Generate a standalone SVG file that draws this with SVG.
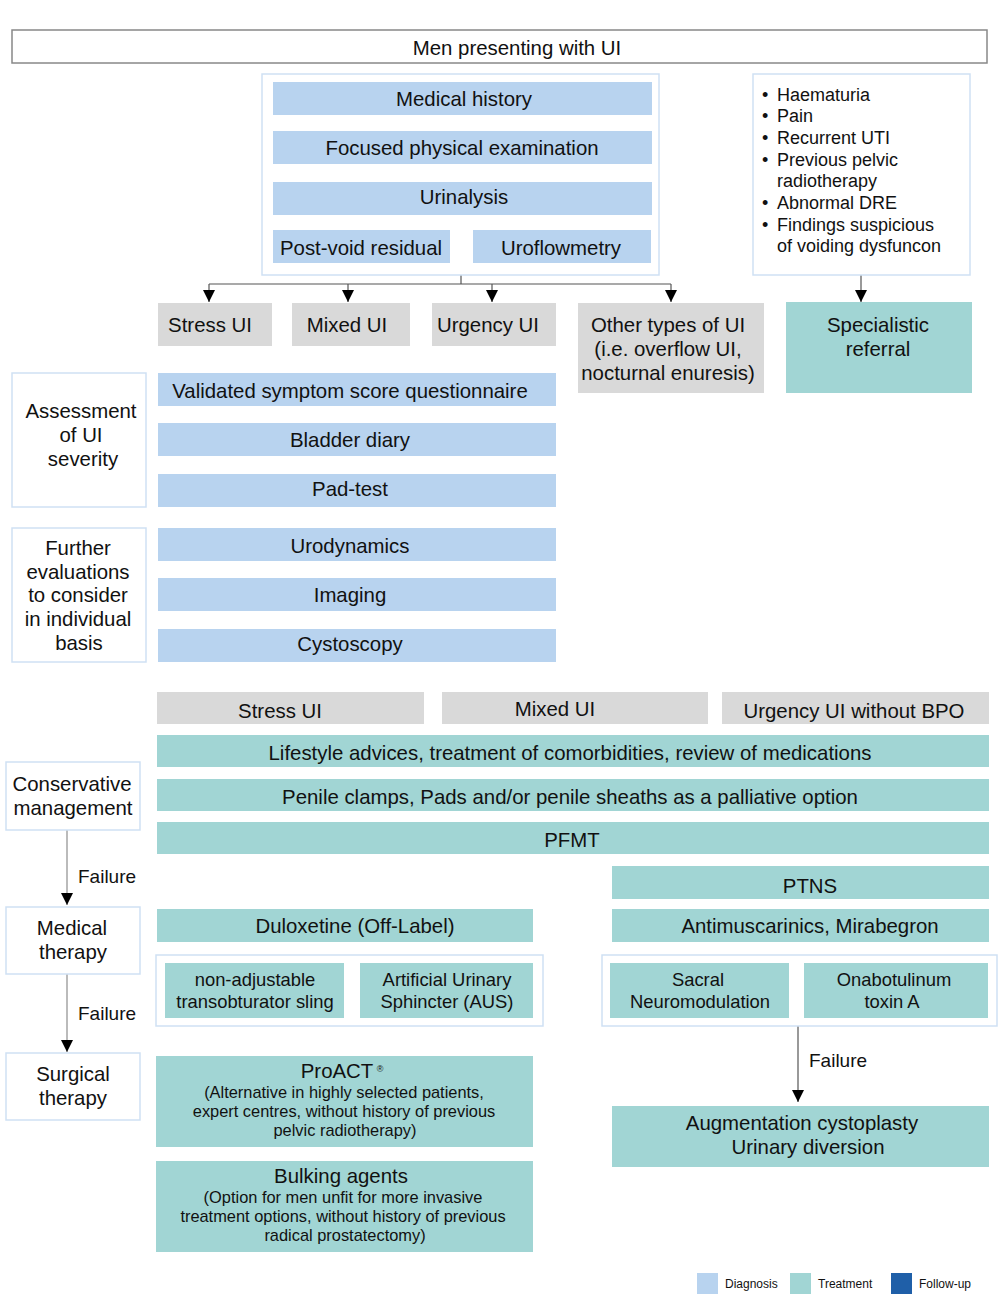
<svg xmlns="http://www.w3.org/2000/svg" width="1002" height="1314" viewBox="0 0 1002 1314">
<defs>
<marker id="ah" markerWidth="12" markerHeight="12" refX="12" refY="6" orient="auto" markerUnits="userSpaceOnUse" viewBox="0 0 12 12">
<path d="M0,0 L12,6 L0,12 Z" fill="#000"/>
</marker>
<style>
text{font-family:"Liberation Sans",Arial,sans-serif;fill:#111;font-size:20.4px;text-anchor:middle}
.dg{fill:#b8d3ef}
.tr{fill:#a1d5d4}
.gy{fill:#d9d9d9}
.fu{fill:#1f5fa8}
.grp{fill:#fff;stroke:#cfe1f4;stroke-width:1.5}
.lab{fill:#fff;stroke:#cfe1f4;stroke-width:1.5}
.top{fill:#fff;stroke:#888;stroke-width:1.5}
.sm{font-size:16.4px}
.md{font-size:18.4px}
.bl{font-size:18px;text-anchor:start}
.lg{font-size:12px;text-anchor:start}
.fl{font-size:19px;text-anchor:start}
.c1{fill:none;stroke:#555;stroke-width:1.2}
.c2{fill:none;stroke:#bbb;stroke-width:2}
</style>
</defs>
<rect width="1002" height="1314" fill="#fff"/>

<g id="connectors">
<path class="c1" d="M461,275 V284"/>
<path class="c1" d="M209,284 H671"/>
<path class="c1" d="M209,284 V302" marker-end="url(#ah)"/>
<path class="c1" d="M348,284 V302" marker-end="url(#ah)"/>
<path class="c1" d="M492,284 V302" marker-end="url(#ah)"/>
<path class="c1" d="M671,284 V302" marker-end="url(#ah)"/>
<path class="c1" d="M861,275 V302" marker-end="url(#ah)"/>
<path class="c2" d="M67,830 V905" marker-end="url(#ah)"/>
<path class="c2" d="M67,974 V1052" marker-end="url(#ah)"/>
<path class="c1" d="M798,1026 V1102" marker-end="url(#ah)"/>
<text class="fl" x="78" y="883">Failure</text>
<text class="fl" x="78" y="1020">Failure</text>
<text class="fl" x="809" y="1067">Failure</text>
</g>

<g id="n-top"><rect class="top" x="12" y="30" width="975" height="33"/><text x="517" y="55">Men presenting with UI</text></g>

<g id="g-initial"><rect class="grp" x="262" y="74" width="397" height="201"/></g>
<g id="n-history"><rect class="dg" x="273" y="82" width="379" height="33"/><text x="464" y="106">Medical history</text></g>
<g id="n-physical"><rect class="dg" x="273" y="131" width="379" height="33"/><text x="462" y="155">Focused physical examination</text></g>
<g id="n-urinalysis"><rect class="dg" x="273" y="182" width="379" height="33"/><text x="464" y="204">Urinalysis</text></g>
<g id="n-pvr"><rect class="dg" x="273" y="230" width="177" height="33"/><text x="361" y="255">Post-void residual</text></g>
<g id="n-uroflow"><rect class="dg" x="473" y="230" width="178" height="33"/><text x="561" y="255">Uroflowmetry</text></g>

<g id="n-redflags"><rect class="grp" x="753" y="74" width="217" height="201"/>
<text class="bl" x="762" y="101">•</text><text class="bl" x="777" y="101">Haematuria</text>
<text class="bl" x="762" y="122">•</text><text class="bl" x="777" y="122">Pain</text>
<text class="bl" x="762" y="144">•</text><text class="bl" x="777" y="144">Recurrent UTI</text>
<text class="bl" x="762" y="166">•</text><text class="bl" x="777" y="166">Previous pelvic</text>
<text class="bl" x="777" y="187">radiotherapy</text>
<text class="bl" x="762" y="209">•</text><text class="bl" x="777" y="209">Abnormal DRE</text>
<text class="bl" x="762" y="231">•</text><text class="bl" x="777" y="231">Findings suspicious</text>
<text class="bl" x="777" y="252">of voiding dysfuncon</text>
</g>

<g id="n-stress1"><rect class="gy" x="158" y="303" width="114" height="43"/><text x="210" y="332">Stress UI</text></g>
<g id="n-mixed1"><rect class="gy" x="292" y="303" width="118" height="43"/><text x="347" y="332">Mixed UI</text></g>
<g id="n-urgency1"><rect class="gy" x="432" y="303" width="124" height="43"/><text x="488" y="332">Urgency UI</text></g>
<g id="n-other"><rect class="gy" x="578" y="303" width="186" height="90"/><text x="668" y="332">Other types of UI</text><text x="668" y="356">(i.e. overflow UI,</text><text x="668" y="380">nocturnal enuresis)</text></g>
<g id="n-referral"><rect class="tr" x="786" y="302" width="186" height="91"/><text x="878" y="332">Specialistic</text><text x="878" y="356">referral</text></g>

<g id="n-assess"><rect class="lab" x="12" y="373" width="134" height="134"/><text x="81" y="418">Assessment</text><text x="81" y="442">of UI</text><text x="83" y="466">severity</text></g>
<g id="n-questionnaire"><rect class="dg" x="158" y="373" width="398" height="33"/><text x="350" y="398">Validated symptom score questionnaire</text></g>
<g id="n-diary"><rect class="dg" x="158" y="423" width="398" height="33"/><text x="350" y="447">Bladder diary</text></g>
<g id="n-pad"><rect class="dg" x="158" y="474" width="398" height="33"/><text x="350" y="496">Pad-test</text></g>

<g id="n-further"><rect class="lab" x="12" y="528" width="134" height="134"/><text x="78" y="555">Further</text><text x="78" y="579">evaluations</text><text x="78" y="602">to consider</text><text x="78" y="626">in individual</text><text x="79" y="650">basis</text></g>
<g id="n-urodyn"><rect class="dg" x="158" y="528" width="398" height="33"/><text x="350" y="553">Urodynamics</text></g>
<g id="n-imaging"><rect class="dg" x="158" y="578" width="398" height="33"/><text x="350" y="602">Imaging</text></g>
<g id="n-cysto"><rect class="dg" x="158" y="629" width="398" height="33"/><text x="350" y="651">Cystoscopy</text></g>

<g id="n-stress2"><rect class="gy" x="157" y="692" width="267" height="32"/><text x="280" y="718">Stress UI</text></g>
<g id="n-mixed2"><rect class="gy" x="442" y="692" width="266" height="32"/><text x="555" y="716">Mixed UI</text></g>
<g id="n-urgency2"><rect class="gy" x="722" y="692" width="267" height="32"/><text x="854" y="718">Urgency UI without BPO</text></g>
<g id="n-lifestyle"><rect class="tr" x="157" y="735" width="832" height="32"/><text x="570" y="760">Lifestyle advices, treatment of comorbidities, review of medications</text></g>
<g id="n-penile"><rect class="tr" x="157" y="779" width="832" height="32"/><text x="570" y="804">Penile clamps, Pads and/or penile sheaths as a palliative option</text></g>
<g id="n-pfmt"><rect class="tr" x="157" y="822" width="832" height="32"/><text x="572" y="847">PFMT</text></g>

<g id="n-conservative"><rect class="lab" x="6" y="762" width="134" height="68"/><text x="72" y="791">Conservative</text><text x="73" y="815">management</text></g>
<g id="n-medical"><rect class="lab" x="6" y="907" width="134" height="67"/><text x="72" y="935">Medical</text><text x="73" y="959">therapy</text></g>
<g id="n-surgical"><rect class="lab" x="6" y="1053" width="134" height="67"/><text x="73" y="1081">Surgical</text><text x="73" y="1105">therapy</text></g>

<g id="n-ptns"><rect class="tr" x="612" y="866" width="377" height="33"/><text x="810" y="893">PTNS</text></g>
<g id="n-antimusc"><rect class="tr" x="612" y="909" width="377" height="33"/><text x="810" y="933">Antimuscarinics, Mirabegron</text></g>
<g id="n-dulox"><rect class="tr" x="157" y="909" width="376" height="33"/><text x="355" y="933">Duloxetine (Off-Label)</text></g>

<g id="g-stress-surgery"><rect class="grp" x="156" y="955" width="387" height="71"/></g>
<g id="n-sling"><rect class="tr" x="165" y="963" width="179" height="55"/><text class="md" x="255" y="986">non-adjustable</text><text class="md" x="255" y="1008">transobturator sling</text></g>
<g id="n-aus"><rect class="tr" x="360" y="963" width="173" height="55"/><text class="md" x="447" y="986">Artificial Urinary</text><text class="md" x="447" y="1008">Sphincter (AUS)</text></g>

<g id="g-urgency-surgery"><rect class="grp" x="602" y="955" width="395" height="71"/></g>
<g id="n-sacral"><rect class="tr" x="610" y="963" width="179" height="55"/><text class="md" x="698" y="986">Sacral</text><text class="md" x="700" y="1008">Neuromodulation</text></g>
<g id="n-onabot"><rect class="tr" x="804" y="963" width="184" height="55"/><text class="md" x="894" y="986">Onabotulinum</text><text class="md" x="892" y="1008">toxin A</text></g>

<g id="n-augment"><rect class="tr" x="612" y="1106" width="377" height="61"/><text x="802" y="1130">Augmentation cystoplasty</text><text x="808" y="1154">Urinary diversion</text></g>

<g id="n-proact"><rect class="tr" x="156" y="1056" width="377" height="91"/><text x="337" y="1078">ProACT</text><text x="380" y="1072" style="font-size:9px">®</text><text class="sm" x="344" y="1098">(Alternative in highly selected patients,</text><text class="sm" x="344" y="1117">expert centres, without history of previous</text><text class="sm" x="345" y="1136">pelvic radiotherapy)</text></g>
<g id="n-bulking"><rect class="tr" x="156" y="1161" width="377" height="91"/><text x="341" y="1183">Bulking agents</text><text class="sm" x="343" y="1203">(Option for men unfit for more invasive</text><text class="sm" x="343" y="1222">treatment options, without history of previous</text><text class="sm" x="345" y="1241">radical prostatectomy)</text></g>

<g id="legend">
<rect class="dg" x="697" y="1273" width="21" height="21"/><text class="lg" x="725" y="1288">Diagnosis</text>
<rect class="tr" x="790" y="1273" width="21" height="21"/><text class="lg" x="818" y="1288">Treatment</text>
<rect class="fu" x="891" y="1273" width="21" height="21"/><text class="lg" x="919" y="1288">Follow-up</text>
</g>
</svg>
